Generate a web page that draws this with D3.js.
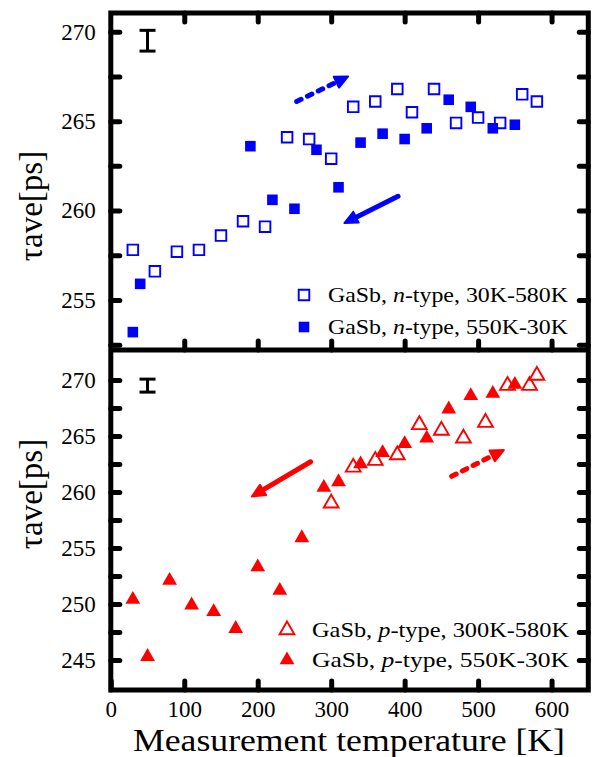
<!DOCTYPE html>
<html>
<head>
<meta charset="utf-8">
<script src="https://cdn.jsdelivr.net/npm/d3@7"></script>
<style>
  html, body { margin: 0; padding: 0; background: #fff; }
  svg { display: block; font-family: "Liberation Serif", "Times New Roman", serif; }
</style>
</head>
<body>
<svg id="chart" width="592" height="757"></svg>
<script>
// ---- Data (temperature in K, tau_ave in ps) ----
// n-type GaSb, heating 30K -> 580K (open squares)
const nUpTemp = [30, 60, 90, 120, 150, 180, 210, 240, 270, 300, 330, 360, 390, 410, 440, 470, 500, 530, 560, 580];
const nUpTau  = [257.8, 256.6, 257.7, 257.8, 258.6, 259.4, 259.1, 264.1, 264.0, 262.9, 265.8, 266.1, 266.8, 265.5, 266.8, 264.9, 265.2, 264.9, 266.5, 266.1];
// n-type GaSb, cooling 550K -> 30K (filled squares)
const nDownTemp = [30, 40, 190, 220, 250, 280, 310, 340, 370, 400, 430, 460, 490, 520, 550];
const nDownTau  = [253.2, 255.9, 263.6, 260.6, 260.1, 263.4, 261.3, 263.8, 264.3, 264.0, 264.6, 266.2, 265.8, 264.6, 264.8];
// p-type GaSb, heating 300K -> 580K (open triangles)
const pUpTemp = [300, 330, 360, 390, 420, 450, 480, 510, 540, 570, 580];
const pUpTau  = [259.0, 262.2, 262.8, 263.3, 266.0, 265.5, 264.8, 266.2, 269.5, 269.5, 270.4];
// p-type GaSb, cooling 550K -> 30K (filled triangles)
const pDownTemp = [30, 50, 80, 110, 140, 170, 200, 230, 260, 290, 310, 340, 370, 400, 430, 460, 490, 520, 550];
const pDownTau  = [250.4, 245.3, 252.1, 249.9, 249.3, 247.8, 253.3, 251.2, 255.9, 260.4, 260.9, 262.5, 263.5, 264.3, 264.8, 267.4, 268.6, 268.8, 269.6];

// typical error bar drawn in the upper-left corner of each panel
const errTemp = 50;
const errTau = 269.5;
const errHalf = 0.58;

// direction arrows [T0, tau0, T1, tau1]
const nArrowUp   = [253, 266.1, 323, 267.5];
const nArrowDown = [391, 260.8, 318, 259.3];
const pArrowUp   = [464, 261.4, 535, 263.75];
const pArrowDown = [272, 262.7, 192, 259.6];

// ticks and labels
const xTicks = [0, 100, 200, 300, 400, 500, 600];
const yTopTicks = [252.5, 255, 257.5, 260, 262.5, 265, 267.5, 270];
const yBotTicks = [245, 247.5, 250, 252.5, 255, 257.5, 260, 262.5, 265, 267.5, 270];
const nLegend = ["30K-580K", "550K-30K"];
const pLegend = ["300K-580K", "550K-30K"];
const xTitle = "Measurement temperature [K]";

(function () {
  const svg = d3.select("#chart");
  const BLUE = "#0000ff";
  const RED = "#ff0000";

  // ---- Scales ----
  const x = d3.scaleLinear().domain([0, 650]).range([110.8, 588.3]);
  const yTop = d3.scaleLinear().domain([252.2, 271.05]).range([350, 13]);
  const yBot = d3.scaleLinear().domain([242.32, 272.68]).range([690, 350]);

  const X0 = x.range()[0], X1 = x.range()[1];

  const styleTicks = (s) => {
    s.select(".domain").remove();
    s.selectAll("line").attr("stroke", "#000").attr("stroke-width", 5).attr("stroke-linecap", "round");
    s.selectAll("text").attr("font-family", "Liberation Serif").attr("font-size", 23).attr("fill", "#000");
  };
  const fmt5 = (d) => (d % 5 === 0 ? d : "");

  // ---- Axes (ticks point inward) ----
  function panelAxes(y, ticks, bottomY, topY, withXLabels, withTopTicks) {
    svg.append("g").attr("transform", `translate(${X0},0)`)
      .call(d3.axisLeft(y).tickValues(ticks).tickSizeInner(-9).tickSizeOuter(0).tickPadding(15).tickFormat(fmt5))
      .call(styleTicks);
    svg.append("g").attr("transform", `translate(${X1},0)`)
      .call(d3.axisRight(y).tickValues(ticks).tickSizeInner(-9).tickSizeOuter(0).tickFormat(""))
      .call(styleTicks);
    svg.append("g").attr("transform", `translate(0,${bottomY})`)
      .call(d3.axisBottom(x).tickValues(withXLabels ? xTicks : xTicks.slice(1)).tickSizeInner(-9).tickSizeOuter(0).tickPadding(11)
        .tickFormat(withXLabels ? d3.format("d") : ""))
      .call(styleTicks);
    if (withTopTicks) {
      svg.append("g").attr("transform", `translate(0,${topY})`)
        .call(d3.axisTop(x).tickValues(xTicks.slice(1)).tickSizeInner(-9).tickSizeOuter(0).tickFormat(""))
        .call(styleTicks);
    }
  }
  panelAxes(yTop, yTopTicks, 350, 13, false, true);
  panelAxes(yBot, yBotTicks, 690, 350, true, false);

  // ---- Frames ----
  svg.append("rect")
    .attr("x", X0).attr("y", 13).attr("width", X1 - X0).attr("height", 690 - 13)
    .attr("fill", "none").attr("stroke", "#000").attr("stroke-width", 5);
  svg.append("line")
    .attr("x1", X0).attr("x2", X1).attr("y1", 350).attr("y2", 350)
    .attr("stroke", "#000").attr("stroke-width", 5);

  // ---- Markers ----
  const square = d3.symbol().type(d3.symbolSquare).size(112);
  const tri = d3.symbol().type(d3.symbolTriangle).size(95);

  function drawSeries(temps, taus, y, sym, color, open) {
    svg.append("g").selectAll("path")
      .data(temps.map((t, i) => ({ t, v: taus[i] })))
      .join("path")
      .attr("d", sym)
      .attr("transform", (d) => `translate(${x(d.t)},${y(d.v)})`)
      .attr("fill", open ? "#fff" : color)
      .attr("stroke", open ? color : "none")
      .attr("stroke-width", 1.9);
  }
  drawSeries(nUpTemp, nUpTau, yTop, square, BLUE, true);
  drawSeries(nDownTemp, nDownTau, yTop, square, BLUE, false);
  drawSeries(pUpTemp, pUpTau, yBot, tri, RED, true);
  drawSeries(pDownTemp, pDownTau, yBot, tri, RED, false);

  // ---- Error bars ----
  function errorBar(y) {
    const g = svg.append("g").attr("stroke", "#000").attr("stroke-width", 3);
    const cx = x(errTemp);
    g.append("line").attr("x1", cx).attr("x2", cx).attr("y1", y(errTau + errHalf)).attr("y2", y(errTau - errHalf));
    [errTau + errHalf, errTau - errHalf].forEach((v) => {
      g.append("line").attr("x1", cx - 8).attr("x2", cx + 8).attr("y1", y(v)).attr("y2", y(v));
    });
  }
  errorBar(yTop);
  errorBar(yBot);

  // ---- Arrows ----
  function arrow(a, y, color, dashed) {
    const x0 = x(a[0]), y0 = y(a[1]), x1 = x(a[2]), y1 = y(a[3]);
    const dx = x1 - x0, dy = y1 - y0, len = Math.hypot(dx, dy);
    const ux = dx / len, uy = dy / len;
    const headL = 13, headW = 6;
    const bx = x1 - ux * headL, by = y1 - uy * headL;
    svg.append("line")
      .attr("x1", x0).attr("y1", y0).attr("x2", bx + ux * 2).attr("y2", by + uy * 2)
      .attr("stroke", color).attr("stroke-width", 5).attr("stroke-linecap", "round")
      .attr("stroke-dasharray", dashed ? "5,7" : null);
    svg.append("path")
      .attr("d", `M${x1},${y1}L${bx - uy * headW},${by + ux * headW}L${bx + uy * headW},${by - ux * headW}Z`)
      .attr("fill", color).attr("stroke", color).attr("stroke-width", 2).attr("stroke-linejoin", "round");
  }
  arrow(nArrowUp, yTop, BLUE, true);
  arrow(nArrowDown, yTop, BLUE, false);
  arrow(pArrowUp, yBot, RED, true);
  arrow(pArrowDown, yBot, RED, false);

  // ---- Legends ----
  function legend(mx, tx, rows, ys, sym, color, kind, width) {
    rows.forEach((r, i) => {
      const open = i === 0;
      svg.append("path").attr("d", sym)
        .attr("transform", `translate(${mx},${ys[i]})`)
        .attr("fill", open ? "#fff" : color)
        .attr("stroke", open ? color : "none")
        .attr("stroke-width", 1.9);
      const t = svg.append("text").attr("x", tx).attr("y", ys[i] + 7)
        .attr("font-size", 21).attr("fill", "#000")
        .attr("textLength", width).attr("lengthAdjust", "spacingAndGlyphs");
      t.append("tspan").text("GaSb, ");
      t.append("tspan").attr("font-style", "italic").text(kind);
      t.append("tspan").text("-type, " + r);
    });
  }
  legend(304, 328, nLegend, [295, 327], square, BLUE, "n", 240);
  legend(287, 312, pLegend, [630, 660], tri, RED, "p", 257);

  // ---- Axis titles ----
  function yTitle(cy) {
    svg.append("text")
      .attr("transform", `translate(41.5,${cy}) rotate(-90)`)
      .attr("text-anchor", "middle").attr("font-size", 33).attr("fill", "#000")
      .text("\u03c4ave[ps]");
  }
  yTitle(206);
  yTitle(494);

  svg.append("text")
    .attr("x", 133).attr("y", 751)
    .attr("font-size", 32).attr("fill", "#000")
    .attr("textLength", 432).attr("lengthAdjust", "spacingAndGlyphs")
    .text(xTitle);
})();
</script>
</body>
</html>
